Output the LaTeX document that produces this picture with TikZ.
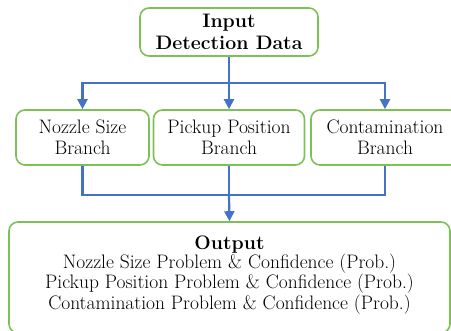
\documentclass[tikz,border=0pt]{standalone}
\usepackage{tikz}
\usetikzlibrary{arrows.meta, positioning, calc}
\definecolor{boxgreen}{RGB}{124,192,86}
\definecolor{lineblue}{RGB}{68,114,196}
\tikzset{
	block/.style={rectangle, draw=boxgreen, line width=1.6pt, rounded corners=9pt, align=center, minimum height=55pt, inner sep=2pt, font=\fontsize{19.5}{20.5}\selectfont},
	arr/.style={draw=lineblue, line width=2.2pt, -{Triangle[length=10pt, width=10pt]}},
	link/.style={draw=lineblue, line width=2.2pt}
}
\begin{document}
\begin{tikzpicture}[x=1pt, y=-1pt]
        \useasboundingbox (0,0) rectangle (451,331);

        \node[block, minimum width=178pt, minimum height=48pt, font=\fontsize{19.5}{22}\selectfont\bfseries] (input) at (229, 32) {Input\\Detection Data};
        \node[block, minimum width=133pt] (nozzle) at (82.5, 137.5) {Nozzle Size\\Branch};
        \node[block, minimum width=151pt] (pickup) at (229, 137.5) {Pickup Position\\Branch};
        \node[block, minimum width=148pt] (contam) at (385, 137.5) {Contamination\\Branch};
        \node[block, minimum width=441pt, minimum height=111pt, font=\fontsize{19.5}{18}\selectfont] (output) at (229.5, 277.5) {\textbf{Output}\\Nozzle Size Problem \& Confidence (Prob.)\\Pickup Position Problem \& Confidence (Prob.)\\Contamination Problem \& Confidence (Prob.)\\[-8pt]};

        \coordinate (split) at (229, 83);
        \coordinate (merge) at (229, 195);

        \draw[arr] (input.south) -- (pickup.north);
        \draw[arr] (split) -| (nozzle.north);
        \draw[arr] (split) -| (contam.north);

        \draw[link] (nozzle.south) |- (merge);
        \draw[link] (contam.south) |- (merge);
        \draw[link] (pickup.south) -- (merge);
        \draw[arr] (merge) -- (output.north);
    \end{tikzpicture}
\end{document}
